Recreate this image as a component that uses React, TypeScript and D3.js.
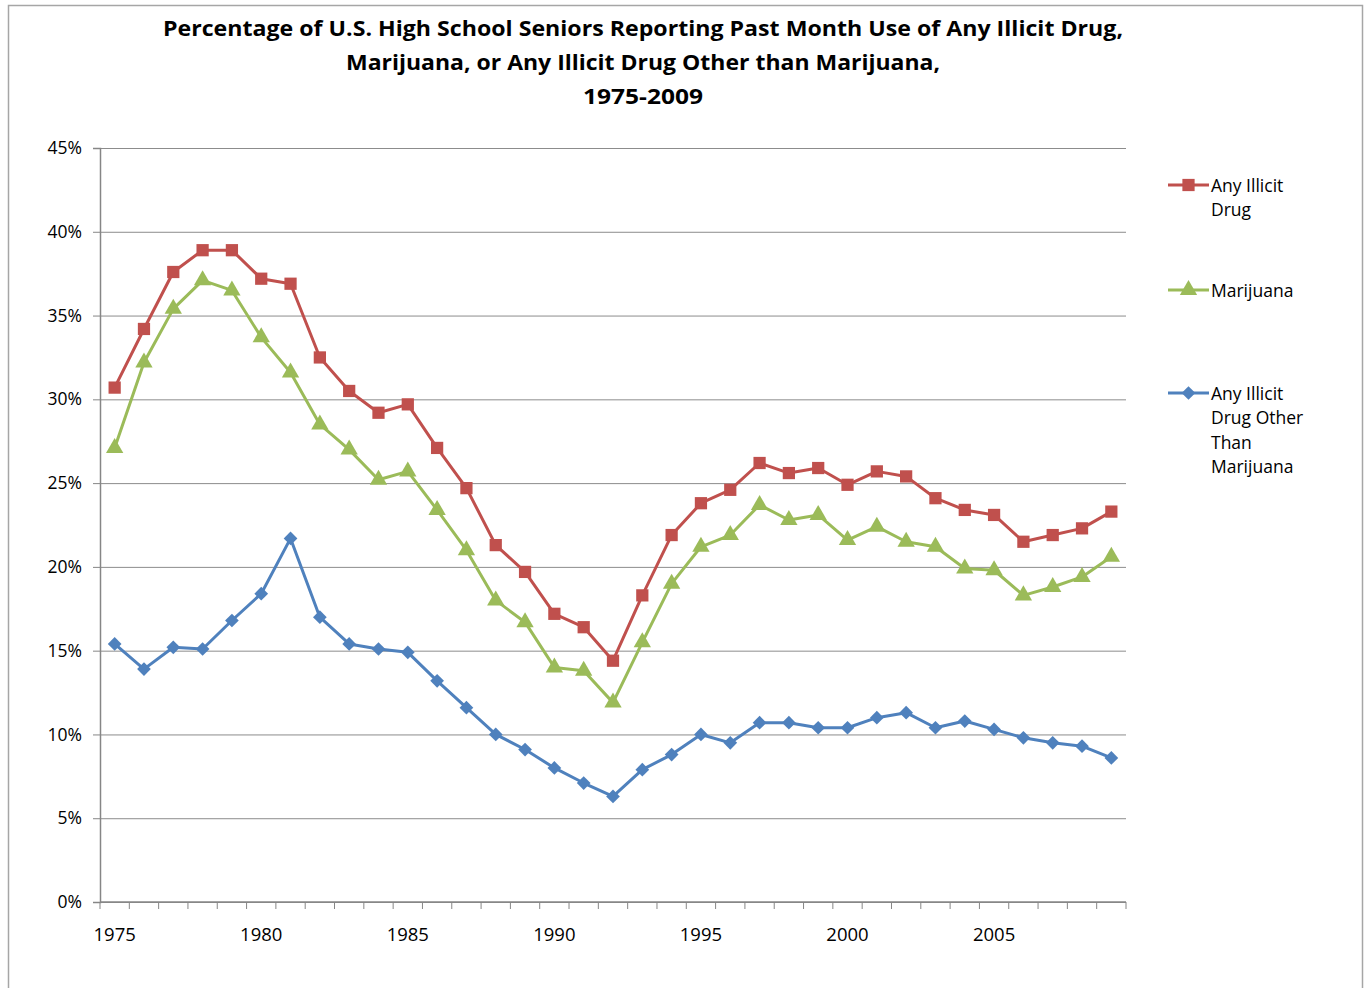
import React, { useEffect, useRef } from 'react';
import * as d3 from 'd3';

const years = d3.range(1975, 2010);
const anyIllicit = [30.7, 34.2, 37.6, 38.9, 38.9, 37.2, 36.9, 32.5, 30.5, 29.2, 29.7, 27.1, 24.7, 21.3, 19.7, 17.2, 16.4, 14.4, 18.3, 21.9, 23.8, 24.6, 26.2, 25.6, 25.9, 24.9, 25.7, 25.4, 24.1, 23.4, 23.1, 21.5, 21.9, 22.3, 23.3];
const marijuana = [27.1, 32.2, 35.4, 37.1, 36.5, 33.7, 31.6, 28.5, 27.0, 25.2, 25.7, 23.4, 21.0, 18.0, 16.7, 14.0, 13.8, 11.9, 15.5, 19.0, 21.2, 21.9, 23.7, 22.8, 23.1, 21.6, 22.4, 21.5, 21.2, 19.9, 19.8, 18.3, 18.8, 19.4, 20.6];
const otherThanMj = [15.4, 13.9, 15.2, 15.1, 16.8, 18.4, 21.7, 17.0, 15.4, 15.1, 14.9, 13.2, 11.6, 10.0, 9.1, 8.0, 7.1, 6.3, 7.9, 8.8, 10.0, 9.5, 10.7, 10.7, 10.4, 10.4, 11.0, 11.3, 10.4, 10.8, 10.3, 9.8, 9.5, 9.3, 8.6];
const yTicks = [0, 5, 10, 15, 20, 25, 30, 35, 40, 45];
const yearLabels = [1975, 1980, 1985, 1990, 1995, 2000, 2005];
const titleLines = [
  'Percentage of U.S. High School Seniors Reporting Past Month Use of Any Illicit Drug,',
  'Marijuana, or Any Illicit Drug Other than Marijuana,',
  '1975-2009',
];

const seriesList = [
  { name: ['Any Illicit', 'Drug'], values: anyIllicit, color: '#C0504D', shape: 'square', legendY: 185 },
  { name: ['Marijuana'], values: marijuana, color: '#9BBB59', shape: 'triangle', legendY: 290 },
  { name: ['Any Illicit', 'Drug Other', 'Than', 'Marijuana'], values: otherThanMj, color: '#4F81BD', shape: 'diamond', legendY: 393 },
];

const FONT = '"Open Sans", "Noto Sans", sans-serif';

const App = () => {
  const svgRef = useRef(null);

  useEffect(() => {
    const svg = d3.select(svgRef.current);
    svg.selectAll('*').remove();

    const left = 100;
    const right = 1126;
    const top = 148;
    const bottom = 902;

    // outer frame
    svg
      .append('rect')
      .attr('x', 8.5)
      .attr('y', 5.5)
      .attr('width', 1354)
      .attr('height', 1000)
      .attr('fill', '#fff')
      .attr('stroke', '#a6a6a6')
      .attr('stroke-width', 1.5);

    // title
    const titleWidths = [960, 594, 120];
    titleLines.forEach((t, i) => {
      svg
        .append('text')
        .attr('x', 643)
        .attr('y', 28 + i * 34)
        .attr('text-anchor', 'middle')
        .attr('dominant-baseline', 'central')
        .attr('font-family', FONT)
        .attr('font-weight', 'bold')
        .attr('font-size', 21)
        .attr('textLength', titleWidths[i])
        .attr('lengthAdjust', 'spacingAndGlyphs')
        .attr('fill', '#000')
        .text(t);
    });

    const xScale = d3.scaleBand().domain(years.map(String)).range([left, right]);
    const yScale = d3.scaleLinear().domain([0, 45]).range([bottom, top]);

    // grid lines
    svg
      .append('g')
      .attr('transform', `translate(${left},0)`)
      .call(
        d3
          .axisLeft(yScale)
          .tickValues(yTicks)
          .tickSize(-(right - left))
          .tickFormat(() => '')
      )
      .call((g) => g.select('.domain').remove())
      .call((g) => g.selectAll('line').attr('stroke', '#8c8c8c').attr('stroke-width', 1));

    // y axis
    const yAxis = svg
      .append('g')
      .attr('transform', `translate(${left},0)`)
      .call(
        d3
          .axisLeft(yScale)
          .tickValues(yTicks)
          .tickSize(7)
          .tickPadding(11)
          .tickFormat((d) => `${d}%`)
      );
    yAxis.select('.domain').attr('stroke', '#868686').attr('stroke-width', 1.5);
    yAxis.selectAll('line').attr('stroke', '#868686');
    yAxis
      .selectAll('text')
      .attr('font-family', FONT)
      .attr('font-size', 17.5)
      .attr('fill', '#000');

    // x axis: ticks between categories
    const xAxis = svg.append('g').attr('transform', `translate(0,${bottom})`);
    xAxis
      .append('line')
      .attr('x1', left)
      .attr('x2', right)
      .attr('stroke', '#868686')
      .attr('stroke-width', 1.5);
    const tickXs = years.map((y) => xScale(String(y))).concat([right]);
    xAxis
      .selectAll('.xtick')
      .data(tickXs)
      .enter()
      .append('line')
      .attr('class', 'xtick')
      .attr('x1', (d) => d)
      .attr('x2', (d) => d)
      .attr('y1', 0)
      .attr('y2', 7)
      .attr('stroke', '#868686');
    xAxis
      .selectAll('.xlabel')
      .data(yearLabels)
      .enter()
      .append('text')
      .attr('class', 'xlabel')
      .attr('x', (d) => xScale(String(d)) + xScale.bandwidth() / 2)
      .attr('y', 31)
      .attr('text-anchor', 'middle')
      .attr('dominant-baseline', 'central')
      .attr('font-family', FONT)
      .attr('font-size', 18.5)
      .attr('fill', '#000')
      .text((d) => d);

    const cx = (i) => xScale(String(years[i])) + xScale.bandwidth() / 2;

    const symbolFor = (shape) => {
      if (shape === 'square') return d3.symbol().type(d3.symbolSquare).size(150);
      if (shape === 'triangle') return d3.symbol().type(d3.symbolTriangle).size(130);
      return d3.symbol().type(d3.symbolDiamond2).size(120);
    };

    const line = d3
      .line()
      .x((d, i) => cx(i))
      .y((d) => yScale(d));

    seriesList.forEach((s) => {
      svg
        .append('path')
        .datum(s.values)
        .attr('fill', 'none')
        .attr('stroke', s.color)
        .attr('stroke-width', 3)
        .attr('stroke-linejoin', 'round')
        .attr('d', line);

      svg
        .selectAll(`.pt-${s.shape}`)
        .data(s.values)
        .enter()
        .append('path')
        .attr('class', `pt-${s.shape}`)
        .attr('d', symbolFor(s.shape)())
        .attr('transform', (d, i) => `translate(${cx(i)},${yScale(d)})`)
        .attr('fill', s.color);

      // legend
      const lg = svg.append('g');
      lg.append('line')
        .attr('x1', 1168)
        .attr('x2', 1209)
        .attr('y1', s.legendY)
        .attr('y2', s.legendY)
        .attr('stroke', s.color)
        .attr('stroke-width', 3);
      lg.append('path')
        .attr('d', symbolFor(s.shape)())
        .attr('transform', `translate(1188.5,${s.legendY})`)
        .attr('fill', s.color);
      s.name.forEach((n, k) => {
        lg.append('text')
          .attr('x', 1211)
          .attr('y', s.legendY + k * 24.4)
          .attr('dominant-baseline', 'central')
          .attr('font-family', FONT)
          .attr('font-size', 17.5)
          .attr('fill', '#000')
          .text(n);
      });
    });
  }, []);

  return (
    <svg
      ref={svgRef}
      width={1365}
      height={988}
      style={{ position: 'absolute', left: 0, top: 0, display: 'block', background: '#fff' }}
    ></svg>
  );
};

export default App;
